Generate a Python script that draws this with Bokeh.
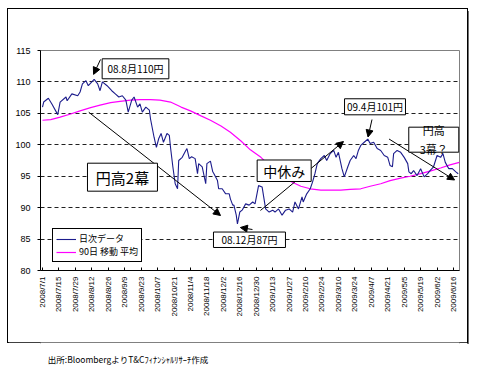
import math
from bokeh.plotting import figure
from bokeh.layouts import column
from bokeh.models import (FixedTicker, Label, BoxAnnotation, Arrow, NormalHead,
                          Legend, LegendItem, ColumnDataSource, Range1d)
from bokeh.core.properties import value
from bokeh.embed import file_html
from bokeh.resources import INLINE

# ---- data -------------------------------------------------------------
# x axis: calendar days since 2008/7/1
tick_days = list(range(0, 351, 14))
tick_labels = ["2008/7/1", "2008/7/15", "2008/7/29", "2008/8/12", "2008/8/26",
               "2008/9/9", "2008/9/23", "2008/10/7", "2008/10/21", "2008/11/4",
               "2008/11/18", "2008/12/2", "2008/12/16", "2008/12/30", "2009/1/13",
               "2009/1/27", "2009/2/10", "2009/2/24", "2009/3/10", "2009/3/24",
               "2009/4/7", "2009/4/21", "2009/5/5", "2009/5/19", "2009/6/2",
               "2009/6/16"]
y_ticks = [80, 85, 90, 95, 100, 105, 110, 115]

daily_days = [0, 1, 5, 8, 13, 15, 20, 21, 25, 30, 32, 34, 37, 39, 44, 47, 49, 51, 55, 59,
              62, 65, 68, 71, 73, 76, 78, 81, 83, 85, 88, 91, 92, 95, 97, 99, 101, 103, 106, 108,
              109, 111, 113, 115, 116, 119, 122, 123, 125, 127, 130, 132, 133, 136, 139, 140, 143, 145, 146, 149,
              150, 153, 156, 159, 160, 162, 163, 165, 166, 168, 170, 173, 176, 179, 181, 184, 187, 190, 193, 196,
              198, 201, 204, 207, 210, 213, 215, 218, 221, 222, 225, 228, 230, 232, 234, 237, 240, 242, 245, 248,
              250, 252, 255, 257, 260, 262, 265, 267, 269, 271, 274, 277, 279, 282, 285, 288, 291, 294, 296, 298,
              299, 302, 305, 308, 311, 312, 314, 316, 319, 322, 325, 328, 330, 333, 336, 339, 341, 343, 346, 349,
              352, 354]
daily_rate = [106.0, 106.8, 107.4, 106.5, 104.8, 106.8, 107.6, 107.0, 108.1, 107.8, 108.4, 109.7, 110.2, 109.4, 110.4, 109.7, 108.6, 110.0, 109.4, 108.6,
              108.1, 107.6, 107.8, 107.1, 105.2, 107.1, 107.6, 106.0, 106.5, 105.2, 106.0, 105.5, 104.1, 101.2, 99.6, 101.0, 101.8, 100.4, 101.8, 101.5,
              99.6, 96.5, 93.8, 93.0, 97.5, 98.0, 99.1, 99.4, 97.8, 98.1, 97.8, 95.4, 97.0, 96.5, 93.8, 97.0, 97.4, 95.7, 95.4, 94.3,
              93.0, 93.0, 92.2, 92.2, 91.4, 90.4, 90.4, 88.8, 87.4, 89.3, 89.6, 90.6, 90.4, 90.9, 90.6, 93.5, 93.3, 89.8, 89.3, 89.6,
              89.3, 89.8, 88.8, 89.6, 89.8, 89.3, 90.9, 89.8, 91.7, 90.9, 92.2, 93.0, 94.1, 95.4, 97.0, 97.8, 98.3, 97.5, 98.6, 99.1,
              98.0, 98.8, 96.2, 94.9, 96.5, 97.5, 98.3, 97.8, 99.1, 99.9, 100.4, 100.9, 100.2, 100.4, 99.4, 99.1, 98.3, 98.0, 96.7, 96.5,
              98.6, 99.1, 98.8, 98.0, 97.0, 95.7, 95.4, 95.9, 95.1, 96.2, 94.9, 95.4, 95.9, 96.5, 98.3, 98.0, 98.6, 97.2, 96.2, 96.2,
              95.7, 95.4]

ma_days = [0, 7, 15, 24, 32, 41, 49, 58, 66, 75, 83, 92, 100, 109, 118, 126, 135, 143, 152, 160,
           169, 177, 186, 194, 203, 211, 220, 228, 237, 245, 254, 262, 271, 279, 288, 296, 305, 313, 322, 330,
           339, 347, 355]
ma_rate = [103.9, 104.0, 104.4, 104.9, 105.4, 105.9, 106.3, 106.7, 106.9, 107.1, 107.2, 107.2, 107.1, 106.8, 106.0, 105.4, 104.6, 103.9, 103.0, 102.0,
           100.6, 99.2, 98.0, 96.6, 95.3, 94.2, 93.4, 93.0, 92.8, 92.8, 92.8, 92.9, 93.0, 93.4, 93.8, 94.3, 94.7, 95.0, 95.4, 95.8,
           96.3, 96.8, 97.2]

series_names = ["日次データ", "90日 移動 平均"]
source_note = "出所:BloombergよりT&Cﾌｨﾅﾝｼｬﾙﾘｻｰﾁ作成"

JP = "Noto Sans CJK JP"
LAT = "Liberation Sans"

# ---- figure -------------------------------------------------------------
p = figure(width=459, height=333, x_range=Range1d(-1.7, 355.1), y_range=Range1d(80, 115),
           output_backend="svg", toolbar_location=None,
           min_border_left=32, min_border_right=8, min_border_top=41, min_border_bottom=72)
p.margin = (9, 0, 0, 8)
p.styles = {"outline": "1px solid black", "box-shadow": "2px 2px 0 #707070"}
p.background_fill_color = "white"
p.border_fill_color = "white"
p.outline_line_color = "#808080"
p.outline_line_width = 1

# axes
p.xaxis.ticker = FixedTicker(ticks=tick_days)
p.xaxis.major_label_overrides = {d: l for d, l in zip(tick_days, tick_labels)}
p.xaxis.major_label_orientation = math.pi / 2
p.xaxis.major_label_text_font = LAT
p.xaxis.major_label_text_font_size = "8px"
p.xaxis.major_label_text_color = "black"
p.xaxis.major_label_standoff = 6
p.xaxis.major_tick_in = 3
p.xaxis.major_tick_out = 0
p.xaxis.minor_tick_line_color = None
p.xaxis.axis_line_color = "black"
p.xaxis.major_tick_line_color = "black"

p.yaxis.ticker = FixedTicker(ticks=y_ticks)
p.yaxis.major_label_text_font = LAT
p.yaxis.major_label_text_font_size = "9px"
p.yaxis.major_label_text_color = "black"
p.yaxis.major_label_standoff = 7
p.yaxis.major_tick_in = 0
p.yaxis.major_tick_out = 3
p.yaxis.minor_tick_line_color = None
p.yaxis.axis_line_color = "black"
p.yaxis.major_tick_line_color = "black"

p.xgrid.grid_line_color = None
p.ygrid.ticker = FixedTicker(ticks=[t for t in y_ticks if 80 < t < 115])
p.ygrid.grid_line_color = "#202020"
p.ygrid.grid_line_dash = "4 3"
p.ygrid.grid_line_width = 1

# lines
src_d = ColumnDataSource(dict(x=daily_days, y=daily_rate))
src_m = ColumnDataSource(dict(x=ma_days, y=ma_rate))
r_ma = p.line("x", "y", source=src_m, line_color="#ff00ff", line_width=1.2)
r_d = p.line("x", "y", source=src_d, line_color="#1c1c8c", line_width=1.1)

# ---- annotations --------------------------------------------------------
def arrow(x0, y0, x1, y1):
    p.add_layout(Arrow(x_start=x0, y_start=y0, x_end=x1, y_end=y1,
                       line_color="black", line_width=1,
                       end=NormalHead(size=7, fill_color="black", line_color="black")))

def box(l, r, b, t, text, size):
    p.add_layout(BoxAnnotation(left=l, right=r, bottom=b, top=t, fill_color="white", fill_alpha=1,
                               line_color="black", line_alpha=1, line_width=1))
    p.add_layout(Label(x=(l + r) / 2, y=(b + t) / 2, text=text, text_align="center",
                       text_baseline="middle", text_font=JP, text_font_size=size,
                       text_color="black", text_line_height=1.15))

i_max = daily_rate.index(max(daily_rate))
i_min = daily_rate.index(min(daily_rate))

arrow(49.4, 113.57, daily_days[i_max] - 0.5, daily_rate[i_max] + 0.8)
arrow(39.4, 105.18, 151.6, 88.75)
arrow(185.6, 89.55, 256.3, 100.52)
arrow(280.6, 104.02, 277.2, 101.24)
arrow(295.1, 100.92, 350.9, 94.40)
arrow(178.8, 86.52, daily_days[i_min] + 2.5, 86.84)

box(50.8, 107.6, 110.5, 113.68, "08.8月110円", "10px")
box(38.3, 97.9, 92.62, 97.07, "円高2幕", "15px")
box(145.6, 206.9, 83.66, 86.12, "08.12月87円", "10px")
box(182.8, 228.8, 94.16, 97.58, "中休み", "14px")
box(257.2, 309.1, 104.77, 107.32, "09.4月101円", "10px")
box(311.9, 354.5, 98.82, 102.8, "円高\n3幕？", "11px")

# legend
legend = Legend(items=[LegendItem(label=series_names[0], renderers=[r_d]),
                       LegendItem(label=series_names[1], renderers=[r_ma])],
                location=(12, 8), orientation="vertical")
legend.label_text_font = JP
legend.label_text_font_size = "9px"
legend.label_text_color = "black"
legend.border_line_color = "black"
legend.border_line_width = 1
legend.border_line_alpha = 1
legend.background_fill_color = "white"
legend.background_fill_alpha = 1
legend.padding = 3
legend.spacing = 0
legend.margin = 0
legend.glyph_width = 20
legend.glyph_height = 12
legend.label_height = 12
legend.label_standoff = 3
p.add_layout(legend, "center")

# ---- source note (below the framed chart) ------------------------------
p2 = figure(width=459, height=24, x_range=Range1d(0, 459), y_range=Range1d(0, 24),
            output_backend="svg", toolbar_location=None, x_axis_type=None, y_axis_type=None,
            min_border=0)
p2.margin = (0, 0, 0, 8)
p2.outline_line_color = None
p2.grid.grid_line_color = None
p2.background_fill_color = "white"
p2.border_fill_color = "white"
p2.text(x=[8], y=[8], text=[source_note], text_font=value(JP), text_font_size="8.5px",
        text_color="black", text_baseline="middle", text_align="left")

layout = column(p, p2, spacing=0)
open("out.html", "w").write(file_html(layout, INLINE))
